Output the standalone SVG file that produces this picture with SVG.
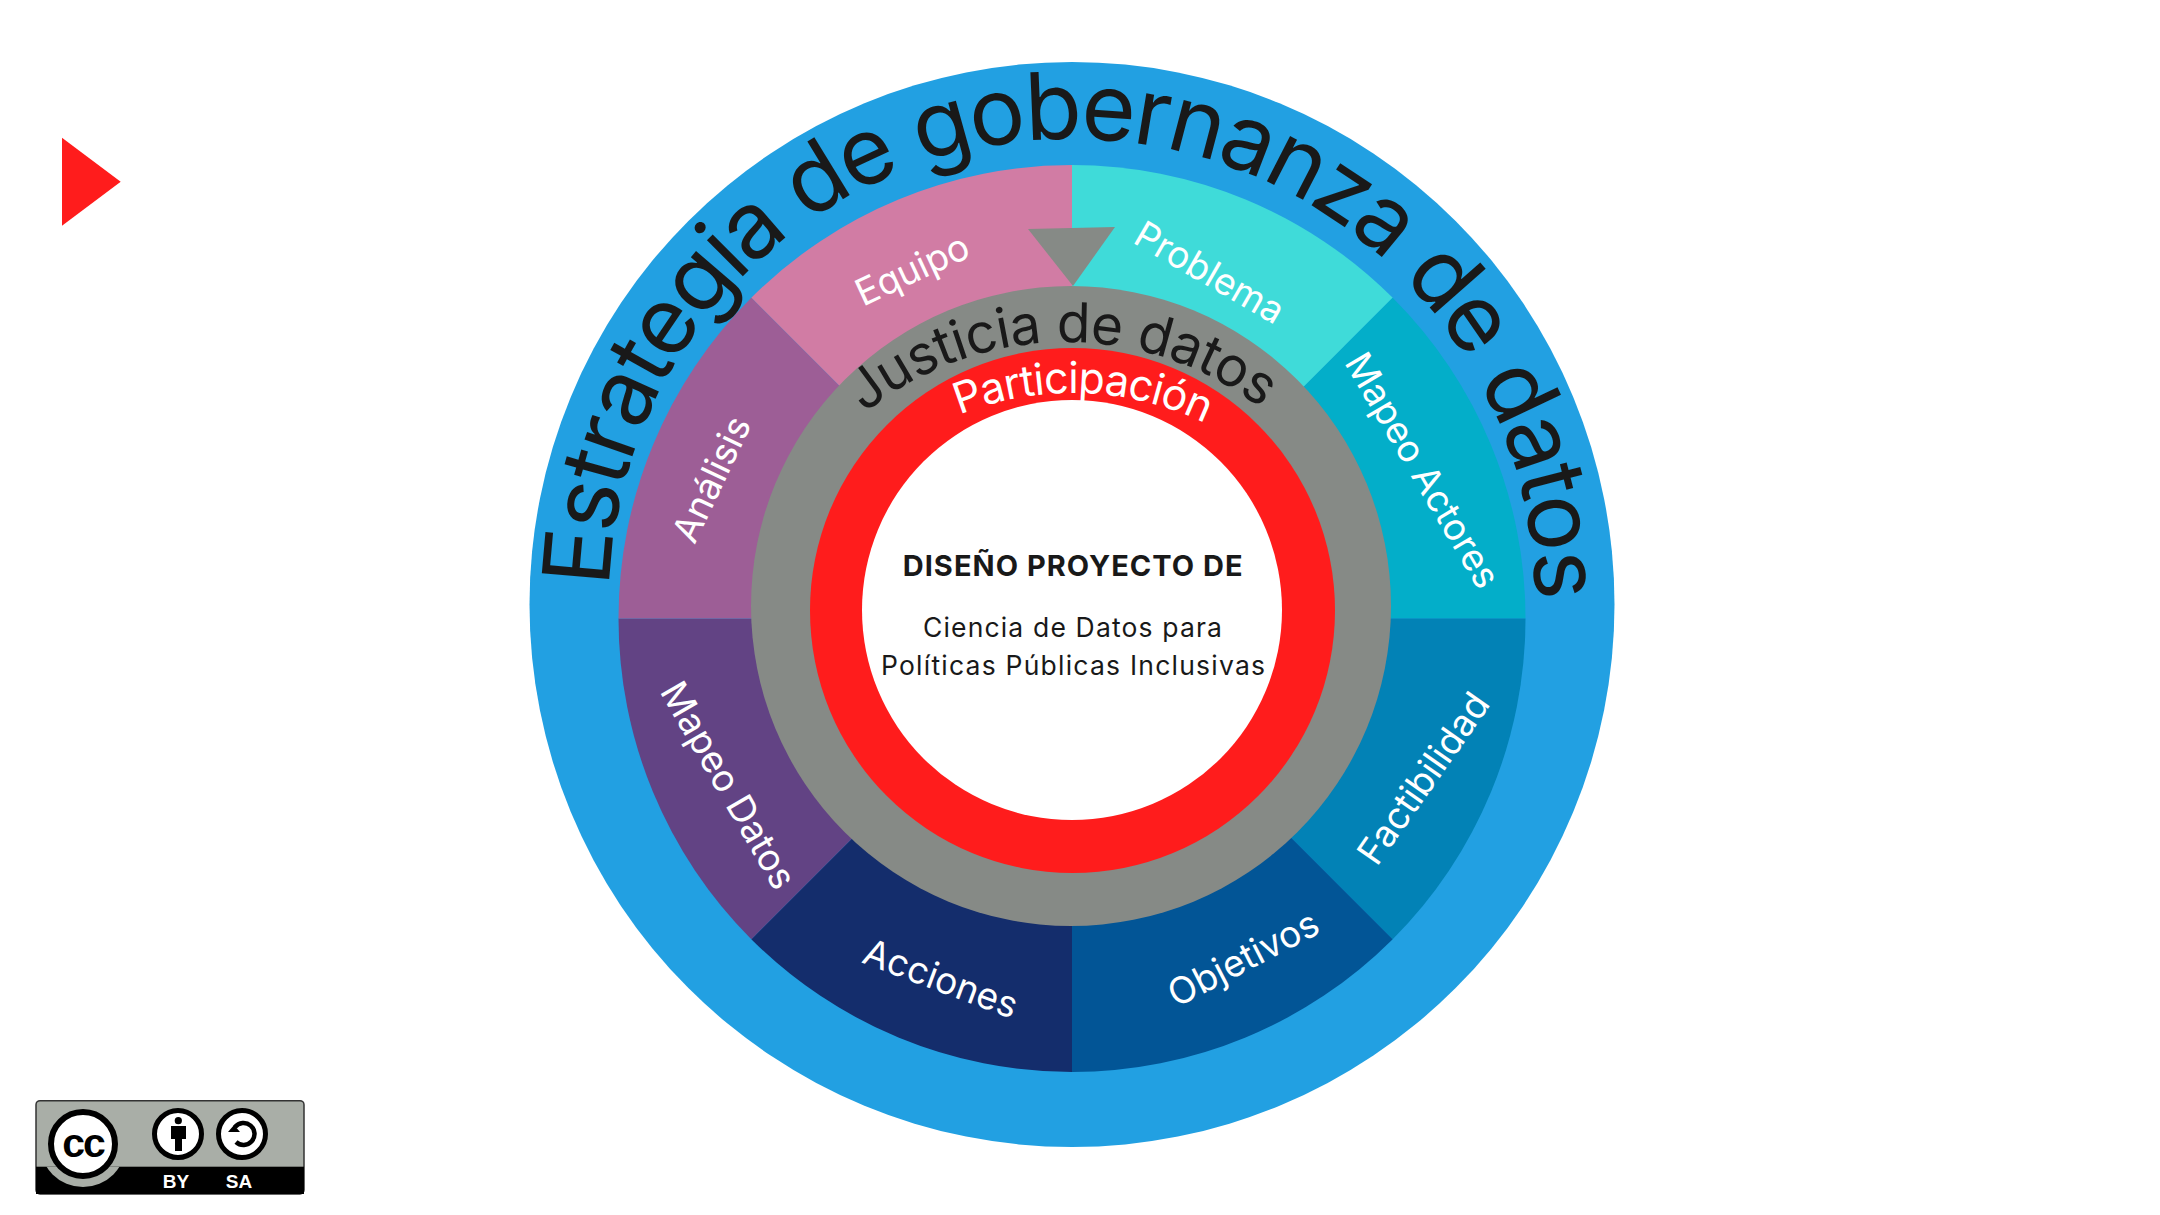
<svg xmlns="http://www.w3.org/2000/svg" width="2160" height="1215" viewBox="0 0 2160 1215">
<style>
text{font-family:Inter,"Liberation Sans",sans-serif}
.lbl{font-size:37px;fill:#fff;text-anchor:middle;dominant-baseline:central}
.dark{fill:#191919}
.body{font-size:26.5px;fill:#191919}
.lic{font-family:"Liberation Sans",Arial,sans-serif;font-weight:700}
</style>
<defs>
<path id="pHead" d="M637 760.4A463 463 0 1 1 1507 760.4"/>
<path id="pJ" d="M757 578.8A320 320 0 0 1 1375 578.8"/>
<path id="pP" d="M808.5 545.2A305 305 0 0 1 1336.5 545.2"/>
<clipPath id="ccBottom"><rect x="36" y="1166.7" width="268" height="27.3"/></clipPath>
</defs>
<rect width="2160" height="1215" fill="#fff"/>
<polygon id="play" points="62,137.7 120.7,181.7 62,225.7" fill="#ff1c1c"/>
<g id="outer-ring"><circle cx="1072" cy="604.5" r="542.5" fill="#22a0e2"/></g>
<g id="sector-equipo"><path d="M1072 618.5V165A453.5 453.5 0 0 0 751.3 297.8Z" fill="#d17ca4"/><text class="lbl" transform="translate(912 269) rotate(-25)">Equipo</text></g>
<g id="sector-problema"><path d="M1072 618.5V165A453.5 453.5 0 0 1 1392.7 297.8Z" fill="#3fdbd9"/><text class="lbl" transform="translate(1210 272) rotate(30)">Problema</text></g>
<g id="sector-mapeo-actores"><path d="M1072 618.5L1392.7 297.8A453.5 453.5 0 0 1 1525.5 618.5Z" fill="#03aec9"/><text class="lbl" transform="translate(1423 470) rotate(59.4)">Mapeo Actores</text></g>
<g id="sector-factibilidad"><path d="M1072 618.5H1525.5A453.5 453.5 0 0 1 1392.7 939.2Z" fill="#0282b6"/><text class="lbl" transform="translate(1423 778) rotate(-55)">Factibilidad</text></g>
<g id="sector-objetivos"><path d="M1072 618.5L1392.7 939.2A453.5 453.5 0 0 1 1072 1072Z" fill="#025596"/><text class="lbl" transform="translate(1243 958) rotate(-27.5)">Objetivos</text></g>
<g id="sector-acciones"><path d="M1072 618.5V1072A453.5 453.5 0 0 1 751.3 939.2Z" fill="#142d6c"/><text class="lbl" transform="translate(941 978) rotate(20.5)">Acciones</text></g>
<g id="sector-mapeo-datos"><path d="M1072 618.5L751.3 939.2A453.5 453.5 0 0 1 618.5 618.5Z" fill="#624384"/><text class="lbl" transform="translate(729 785) rotate(60)">Mapeo Datos</text></g>
<g id="sector-analisis"><path d="M1072 618.5H618.5A453.5 453.5 0 0 1 751.3 297.8Z" fill="#9d5e96"/><text class="lbl" transform="translate(711 479) rotate(-64.6)">Análisis</text></g>
<g id="justicia"><circle cx="1071" cy="606" r="320" fill="#868a86"/><polygon points="1028,229 1115,227 1073,286" fill="#868a86"/></g>
<g id="participacion"><circle cx="1072.5" cy="610.5" r="262.5" fill="#ff1c1c"/></g>
<g id="centro"><circle cx="1072" cy="610" r="210" fill="#fff"/>
<text x="902.7" y="575.7" textLength="340" lengthAdjust="spacing" style="font-size:29px;font-weight:700;fill:#191919">DISEÑO PROYECTO DE</text>
<text class="body" x="923" y="636.7" textLength="299" lengthAdjust="spacing">Ciencia de Datos para</text>
<text class="body" x="881" y="675" textLength="384" lengthAdjust="spacing">Políticas Públicas Inclusivas</text></g>
<g id="titulos">
<text class="dark" font-size="93" letter-spacing="-3"><textPath href="#pHead" startOffset="50.3%" text-anchor="middle">Estrategia de gobernanza de datos</textPath></text>
<text class="dark" font-size="55" letter-spacing="-0.8"><textPath href="#pJ" startOffset="49.5%" text-anchor="middle">Justicia de datos</textPath></text>
<text fill="#fff" font-size="43" letter-spacing="-1"><textPath href="#pP" startOffset="51.6%" text-anchor="middle">Participación</textPath></text>
</g>
<g id="licencia">
<rect x="36" y="1100.7" width="268" height="93.3" rx="4" fill="#a9aea7" stroke="#333" stroke-width="1.5"/>
<rect x="36" y="1166.7" width="268" height="27.3" fill="#000"/>
<circle cx="83" cy="1144" r="43" fill="#a9aea7" clip-path="url(#ccBottom)"/>
<circle cx="83" cy="1144" r="32" fill="#fff" stroke="#000" stroke-width="6"/>
<text class="lic" x="83" y="1157" style="font-size:41px;fill:#000;text-anchor:middle;letter-spacing:-2px">cc</text>
<circle cx="178" cy="1134" r="23.5" fill="#fff" stroke="#000" stroke-width="5"/>
<circle cx="178.3" cy="1120.7" r="3.6" fill="#000"/>
<path d="M171 1126H186V1139H182V1151H175V1139H171Z" fill="#000"/>
<circle cx="242" cy="1134" r="23.5" fill="#fff" stroke="#000" stroke-width="5"/>
<path d="M235 1127A11 11 0 1 1 236 1142" fill="none" stroke="#000" stroke-width="4.5"/>
<path d="M228 1132L240 1132L234 1125Z" fill="#000"/>
<text class="lic" x="176" y="1188" style="font-size:19px;fill:#fff;text-anchor:middle">BY</text>
<text class="lic" x="239" y="1188" style="font-size:19px;fill:#fff;text-anchor:middle">SA</text>
</g>
</svg>
